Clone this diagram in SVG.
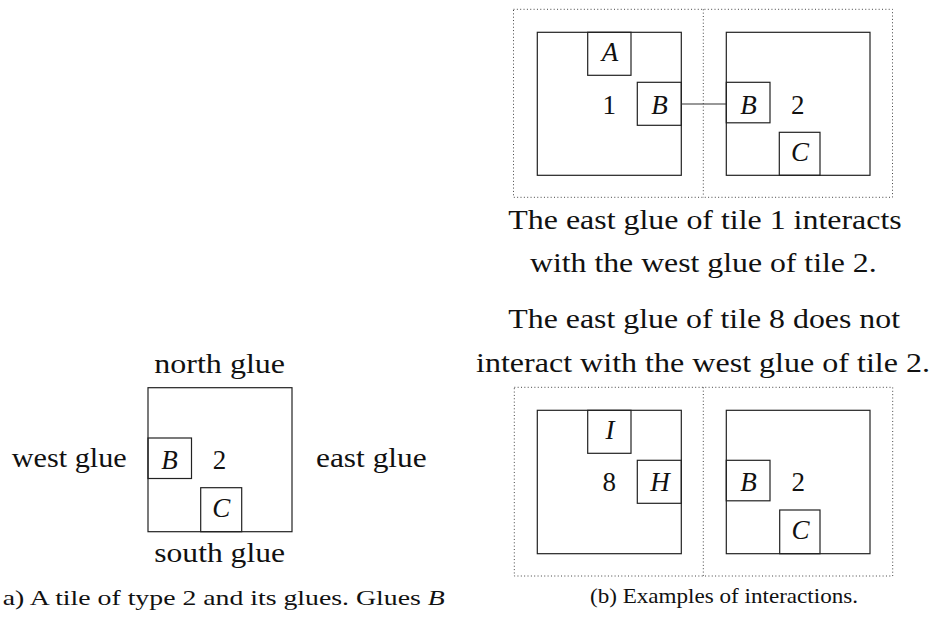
<svg xmlns="http://www.w3.org/2000/svg" width="935" height="623" viewBox="0 0 935 623">
<style>
  .tile{fill:none;stroke:#222;stroke-width:1.2}
  .glue{fill:none;stroke:#222;stroke-width:1.2}
  .frame{fill:none;stroke:#444;stroke-width:1;stroke-dasharray:1 2.35}
  .t{font-family:"Liberation Serif","Times New Roman",serif;font-size:28px;fill:#111}
  .lbl{font-family:"Liberation Serif","Times New Roman",serif;font-size:27px;fill:#111;text-anchor:middle}
  .it{font-style:italic}
  .cap{font-family:"Liberation Serif","Times New Roman",serif;font-size:21px;fill:#111}
  .conn{stroke:#333;stroke-width:1.2;fill:none}
</style>
<rect width="935" height="623" fill="#fff"/>

<!-- (a) single tile -->
<g id="tile-a">
  <rect class="tile" x="148" y="387.7" width="144" height="144"/>
  <rect class="glue" x="148" y="438" width="43.5" height="40.5"/>
  <rect class="glue" x="200.7" y="487.7" width="41" height="44"/>
  <text class="lbl it" x="169.5" y="469">B</text>
  <text class="lbl" x="219.5" y="468.5">2</text>
  <text class="lbl it" x="221.2" y="517">C</text>
</g>
<g id="labels-a">
  <text class="t" x="154.3" y="372.7" textLength="130.7" lengthAdjust="spacingAndGlyphs">north glue</text>
  <text class="t" x="11.7" y="467" textLength="115" lengthAdjust="spacingAndGlyphs">west glue</text>
  <text class="t" x="316" y="467" textLength="110.7" lengthAdjust="spacingAndGlyphs">east glue</text>
  <text class="t" x="154.3" y="561.7" textLength="130.7" lengthAdjust="spacingAndGlyphs">south glue</text>
  <text class="cap" x="2.7" y="605" textLength="442" lengthAdjust="spacingAndGlyphs">a) A tile of type 2 and its glues. Glues <tspan class="it">B</tspan></text>
</g>

<!-- (b) top example -->
<g id="frame-top">
  <rect class="frame" x="513.5" y="9.3" width="379" height="188"/>
  <line class="frame" x1="703.3" y1="9.3" x2="703.3" y2="197.3"/>
</g>
<g id="tile-1">
  <rect class="tile" x="537.3" y="32.3" width="144" height="143"/>
  <rect class="glue" x="587.7" y="32.3" width="43.3" height="43"/>
  <rect class="glue" x="637.3" y="82.3" width="44" height="43"/>
  <text class="lbl it" x="610" y="61">A</text>
  <text class="lbl" x="609.3" y="113.5">1</text>
  <text class="lbl it" x="659.5" y="113.5">B</text>
</g>
<g id="tile-2-top">
  <rect class="tile" x="726.3" y="32.3" width="143.7" height="143"/>
  <rect class="glue" x="726.3" y="82.3" width="43.7" height="40.5"/>
  <rect class="glue" x="779.3" y="132.3" width="40.7" height="43"/>
  <text class="lbl it" x="748.5" y="113.5">B</text>
  <text class="lbl" x="797.7" y="113.5">2</text>
  <text class="lbl it" x="800" y="161">C</text>
</g>
<g id="connectors">
  <line class="conn" x1="681.3" y1="104" x2="726.3" y2="104"/>
</g>
<g id="text-b">
  <text class="t" x="508.3" y="229.3" textLength="393.4" lengthAdjust="spacingAndGlyphs">The east glue of tile 1 interacts</text>
  <text class="t" x="530" y="271.7" textLength="346.7" lengthAdjust="spacingAndGlyphs">with the west glue of tile 2.</text>
  <text class="t" x="508.3" y="327.7" textLength="391.7" lengthAdjust="spacingAndGlyphs">The east glue of tile 8 does not</text>
  <text class="t" x="476" y="371.7" textLength="454" lengthAdjust="spacingAndGlyphs">interact with the west glue of tile 2.</text>
</g>

<!-- (b) bottom example -->
<g id="frame-bottom">
  <rect class="frame" x="514.3" y="387.3" width="378.4" height="188.7"/>
  <line class="frame" x1="703.3" y1="387.3" x2="703.3" y2="576"/>
</g>
<g id="tile-8">
  <rect class="tile" x="537.3" y="410.3" width="144" height="143.4"/>
  <rect class="glue" x="587.7" y="410.3" width="43.3" height="43"/>
  <rect class="glue" x="637.3" y="460.3" width="44" height="43"/>
  <text class="lbl it" x="610" y="439">I</text>
  <text class="lbl" x="609.3" y="491">8</text>
  <text class="lbl it" x="660" y="491">H</text>
</g>
<g id="tile-2-bottom">
  <rect class="tile" x="726.3" y="410.3" width="143.7" height="143.4"/>
  <rect class="glue" x="726.3" y="460.3" width="43.7" height="40.5"/>
  <rect class="glue" x="779.7" y="510" width="40.3" height="43.7"/>
  <text class="lbl it" x="748.5" y="491">B</text>
  <text class="lbl" x="798.3" y="491">2</text>
  <text class="lbl it" x="800.5" y="538.5">C</text>
</g>
<text class="cap" x="590" y="603" textLength="268" lengthAdjust="spacingAndGlyphs">(b) Examples of interactions.</text>
</svg>
